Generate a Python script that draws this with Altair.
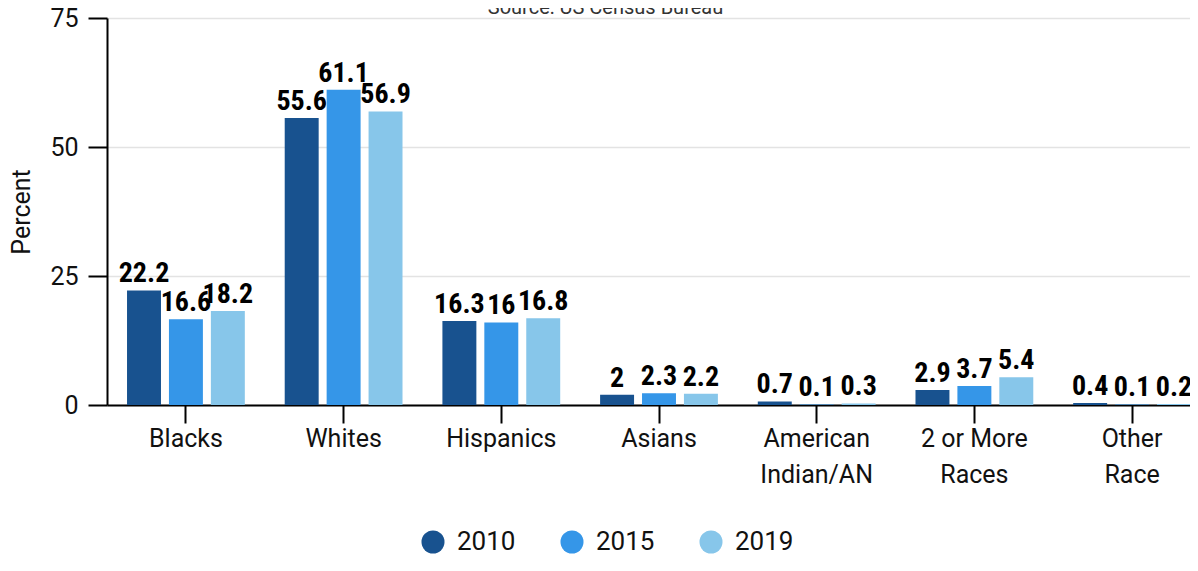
import altair as alt
import pandas as pd

categories = ["Blacks", "Whites", "Hispanics", "Asians", "American\nIndian/AN", "2 or More\nRaces", "Other\nRace"]
years = ["2010", "2015", "2019"]
v2010 = [22.2, 55.6, 16.3, 2.0, 0.7, 2.9, 0.4]
v2015 = [16.6, 61.1, 16.0, 2.3, 0.1, 3.7, 0.1]
v2019 = [18.2, 56.9, 16.8, 2.2, 0.3, 5.4, 0.2]
colors = ["#18528f", "#3596e8", "#87c6ea"]
y_ticks = [0, 25, 50, 75]

rows = []
for yr, vals in zip(years, [v2010, v2015, v2019]):
    for c, v in zip(categories, vals):
        rows.append({"category": c, "year": yr, "value": v})
df = pd.DataFrame(rows)

W = 1083
H = 387
RANGE_W = 1104

x = alt.X("category:N", sort=categories,
          scale=alt.Scale(range=[0, RANGE_W], paddingInner=0.253, paddingOuter=0.127),
          axis=alt.Axis(title=None, labelAngle=0, labelExpr="split(datum.label, '\\n')",
                        labelFont="Roboto", labelFontSize=25, labelColor="#111",
                        labelLineHeight=36, labelPadding=3, labelBaseline="top",
                        domainColor="#000", domainWidth=2, tickColor="#000", tickWidth=2,
                        tickSize=18, grid=False))
xo = alt.XOffset("year:N", sort=years, scale=alt.Scale(paddingInner=0.19, paddingOuter=0))
y = alt.Y("value:Q", scale=alt.Scale(domain=[0, 75], nice=False),
          axis=alt.Axis(title="Percent", values=y_ticks, labelFont="Roboto", labelFontSize=25,
                        labelColor="#111", labelPadding=10, tickSize=19, tickWidth=2,
                        tickColor="#000", domainColor="#000", domainWidth=2,
                        gridColor="#e3e3e3", gridWidth=1.5,
                        titleFont="Roboto", titleFontSize=25, titleFontWeight="normal",
                        titleColor="#111", titlePadding=15))
color = alt.Color("year:N", sort=years, scale=alt.Scale(domain=years, range=colors),
                  legend=alt.Legend(title=None, orient="none", direction="horizontal",
                                    legendX=313, legendY=511, symbolType="circle",
                                    symbolSize=530, symbolStrokeWidth=0, symbolOpacity=1,
                                    labelFont="Roboto", labelFontSize=26, labelColor="#111",
                                    labelOffset=11, columnPadding=43, padding=0))

base = alt.Chart(df)
bars = base.mark_bar().encode(x=x, xOffset=xo, y=y, color=color)
labels = base.mark_text(baseline="alphabetic", dy=-8, fontWeight="bold", fontSize=28,
                        font="Roboto Condensed, Liberation Sans Narrow, Roboto",
                        color="#000").encode(
    x=x, xOffset=xo, y=y, text=alt.Text("value:Q", format=""))

chart = alt.layer(bars, labels).properties(
    width=W, height=H,
    title=alt.TitleParams("Source: US Census Bureau", font="Roboto", fontSize=20,
                          fontWeight="normal", color="#333", anchor="middle", dx=-43,
                          offset=0, dy=12),
    autosize=alt.AutoSizeParams(type="none"),
    padding={"left": 99, "top": 10, "right": 0, "bottom": 153},
).configure_view(stroke=None)

chart.save("out.html", embed_options={"renderer": "svg", "actions": False})
